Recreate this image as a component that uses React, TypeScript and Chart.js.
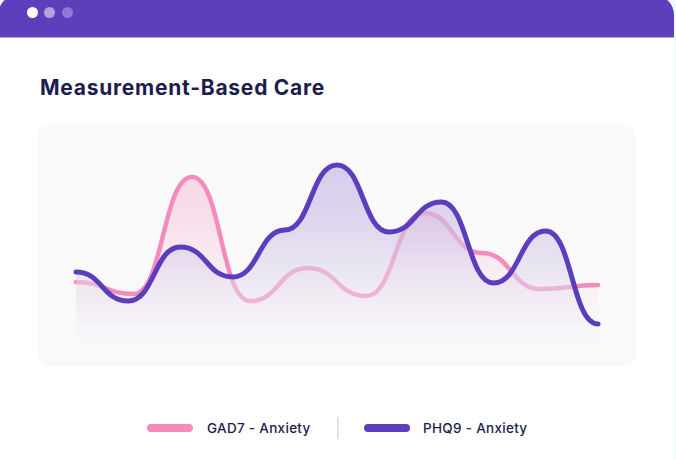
import React, { useEffect, useRef } from "react";
import { Chart, registerables } from "chart.js";

Chart.register(...registerables);

// Data (day of care, score)
const gadLabel = "GAD7 - Anxiety";
const phqLabel = "PHQ9 - Anxiety";
const gadDays = [0, 10, 20, 30, 40, 50, 60, 70, 80, 90];
const gadScores = [6.8, 5.6, 17.3, 4.9, 8.2, 5.4, 13.7, 9.7, 6.1, 6.5];
const phqDays = [0, 9, 18, 27, 36, 45, 54, 63, 72, 81, 90];
const phqScores = [7.8, 4.9, 10.3, 7.3, 12.0, 18.5, 11.8, 14.8, 6.7, 11.9, 2.6];

const PINK = "#f48bbd";
const PURPLE = "#5b3dbd";
const NAVY = "#1c1d4d";
const K = 0.5;

const flatHandles = {
  id: "flatHandles",
  beforeDraw(chart: any) {
    chart.getSortedVisibleDatasetMetas().forEach((meta: any) => {
      const line = meta.dataset;
      if (!line) return;
      line.updateControlPoints(chart.chartArea, "x");
      const pts = meta.data;
      for (let i = 0; i < pts.length; i++) {
        const p = pts[i];
        const prev = pts[i - 1];
        const next = pts[i + 1];
        p.cp1x = prev ? p.x - (p.x - prev.x) * K : p.x;
        p.cp1y = p.y;
        p.cp2x = next ? p.x + (next.x - p.x) * K : p.x;
        p.cp2y = p.y;
      }
      line._path = undefined;
    });
  },
};

function purpleFill(c: any) {
  const chart = c.chart;
  const a = chart.chartArea;
  if (!a) return "transparent";
  const g = chart.ctx.createLinearGradient(0, a.top, 0, a.bottom);
  g.addColorStop(0, "rgba(200,188,232,0.75)");
  g.addColorStop(0.35, "rgba(205,190,230,0.62)");
  g.addColorStop(0.6, "rgba(222,214,236,0.55)");
  g.addColorStop(0.85, "rgba(240,236,246,0.4)");
  g.addColorStop(1, "rgba(249,249,249,0)");
  return g;
}

function pinkFill(c: any) {
  const chart = c.chart;
  const a = chart.chartArea;
  if (!a) return "transparent";
  const g = chart.ctx.createLinearGradient(0, a.top, 0, a.bottom);
  g.addColorStop(0, "rgba(244,139,189,0.3)");
  g.addColorStop(0.35, "rgba(244,139,189,0.24)");
  g.addColorStop(0.65, "rgba(244,139,189,0.08)");
  g.addColorStop(0.9, "rgba(244,139,189,0)");
  return g;
}

function CareChart() {
  const ref = useRef<HTMLCanvasElement | null>(null);
  useEffect(() => {
    if (!ref.current) return;
    const chart = new Chart(ref.current, {
      type: "line",
      data: {
        datasets: [
          {
            label: gadLabel,
            data: gadDays.map((d, i) => ({ x: d, y: gadScores[i] })),
            borderColor: PINK,
            borderWidth: 4.5,
            backgroundColor: pinkFill,
            fill: "start",
            tension: 0.4,
            pointRadius: 0,
            borderCapStyle: "round",
            borderJoinStyle: "round",
            clip: false,
            order: 1,
          },
          {
            label: phqLabel,
            data: phqDays.map((d, i) => ({ x: d, y: phqScores[i] })),
            borderColor: PURPLE,
            borderWidth: 5,
            backgroundColor: purpleFill,
            fill: "start",
            tension: 0.4,
            pointRadius: 0,
            borderCapStyle: "round",
            borderJoinStyle: "round",
            clip: false,
            order: 0,
          },
        ] as any,
      },
      options: {
        animation: false,
        responsive: true,
        maintainAspectRatio: false,
        events: [],
        layout: { padding: { left: 39, right: 38, top: 26, bottom: 16 } },
        scales: {
          x: { type: "linear", min: 0, max: 90, display: false },
          y: { type: "linear", min: 0, max: 20, display: false },
        },
        plugins: {
          legend: { display: false },
          tooltip: { enabled: false },
        },
      } as any,
      plugins: [flatHandles],
    });
    return () => chart.destroy();
  }, []);
  return <canvas ref={ref} />;
}

export default function App() {
  const abs = (s: React.CSSProperties): React.CSSProperties => ({ position: "absolute", ...s });
  return (
    <div
      style={{
        position: "fixed",
        left: 0,
        top: 0,
        width: 676,
        height: 460,
        background: "#eefbfb",
        overflow: "hidden",
        fontFamily: "Inter, 'Open Sans', sans-serif",
      }}
    >
      <div style={abs({ left: -2, top: -5, width: 676, height: 480, background: "#ffffff", borderRadius: "20px 20px 0 0" })} />
      <div style={abs({ left: -2, top: -5, width: 676, height: 42, background: "#5e3fbb", borderRadius: "20px 20px 0 0" })} />
      <div style={abs({ left: -2, top: 37, width: 676, height: 1, background: "#ae9fe3" })} />
      <div style={abs({ left: 26.5, top: 7, width: 11, height: 11, borderRadius: "50%", background: "#ffffff" })} />
      <div style={abs({ left: 44, top: 7, width: 11, height: 11, borderRadius: "50%", background: "#b1a4e1" })} />
      <div style={abs({ left: 61.5, top: 7, width: 11, height: 11, borderRadius: "50%", background: "#8c79d3" })} />

      <div
        style={abs({
          left: 40,
          top: 77,
          fontSize: 21,
          lineHeight: "21px",
          fontWeight: 700,
          color: NAVY,
          whiteSpace: "nowrap",
          letterSpacing: 0.75,
        })}
      >
        Measurement-Based Care
      </div>

      <div style={abs({ left: 37, top: 124, width: 599, height: 242, borderRadius: 14, background: "#f9f9f9" })} />
      <div style={abs({ left: 37, top: 124, width: 599, height: 242 })}>
        <CareChart />
      </div>

      <div style={abs({ left: 147, top: 424, width: 46, height: 8, borderRadius: 4, background: PINK })} />
      <div
        style={abs({ left: 207, top: 420, fontSize: 13.5, lineHeight: "16px", fontWeight: 500, color: NAVY, whiteSpace: "nowrap", letterSpacing: 0.3 })}
      >
        {gadLabel}
      </div>
      <div style={abs({ left: 337, top: 417, width: 2, height: 22, background: "#e4e4e6" })} />
      <div style={abs({ left: 364, top: 424, width: 46, height: 8, borderRadius: 4, background: PURPLE })} />
      <div
        style={abs({ left: 423, top: 420, fontSize: 13.5, lineHeight: "16px", fontWeight: 500, color: NAVY, whiteSpace: "nowrap", letterSpacing: 0.3 })}
      >
        {phqLabel}
      </div>
    </div>
  );
}
